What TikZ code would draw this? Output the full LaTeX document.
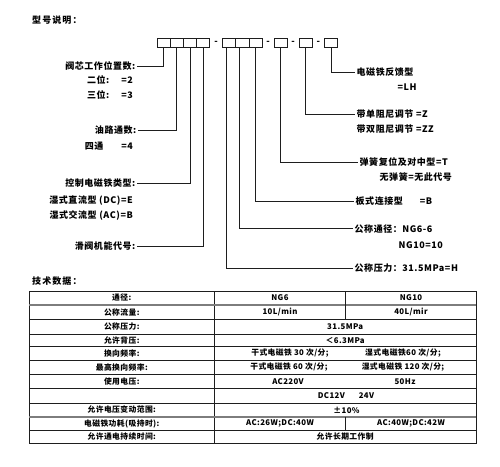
\documentclass[tikz,border=0pt]{standalone}
\usepackage{fontspec}
\setmainfont{Noto Sans CJK SC}
\usetikzlibrary{positioning}
\definecolor{ink}{RGB}{30,30,30}
\definecolor{rulegray}{RGB}{125,125,125}
\tikzset{
  cell/.style={draw=ink,line width=0.9pt,minimum width=13.2pt,minimum height=9.4pt,
               inner sep=0pt,outer sep=0pt},
  lead/.style={draw=ink,line width=0.9pt},
  lab/.style={font=\fontsize{9}{10}\selectfont\bfseries\addfontfeature{LetterSpace=6},inner sep=1.5pt},
  ltxt/.style={lab,anchor=east},
  rtxt/.style={lab,anchor=west},
  ttl/.style={font=\fontsize{9}{10}\selectfont\bfseries\addfontfeature{LetterSpace=12},
              inner sep=0pt,anchor=west},
  tab/.style={font=\fontsize{7.8}{9}\selectfont\bfseries\addfontfeature{LetterSpace=5},inner sep=0pt},
  grid/.style={draw=ink,line width=0.8pt},
  heavy/.style={draw=rulegray,line width=1.6pt},
}

\begin{document}
\begin{tikzpicture}[x=1pt,y=-1pt]
  \useasboundingbox (0,0) rectangle (500,466);

  % model code boxes
  \node[ttl] (title1) at (32,20) {型号说明：};
  \node[cell] (g1a) at (163.6,43) {};
  \node[cell,right=0pt of g1a] (g1b) {};
  \node[cell,right=0pt of g1b] (g1c) {};
  \node[cell,right=0pt of g1c] (g1d) {};
  \node[lab] (d1) at (216,42.5) {-};
  \node[cell] (g2a) at (229.3,43) {};
  \node[cell,right=0pt of g2a] (g2b) {};
  \node[cell,right=0pt of g2b] (g2c) {};
  \node[lab] (d2) at (268,42.5) {-};
  \node[cell] (c3) at (280.7,43) {};
  \node[lab] (d3) at (293.2,42.5) {-};
  \node[cell] (c4) at (305.7,43) {};
  \node[lab] (d4) at (318.3,42.5) {-};
  \node[cell] (c5) at (331,43) {};

  % left side
  \node[ltxt] (l1) at (137,66) {阀芯工作位置数:};
  \node[ltxt] (l1a) at (134.5,80) {二位:\hspace{12pt}=2};
  \node[ltxt] (l1b) at (134.5,95) {三位:\hspace{12pt}=3};
  \node[ltxt] (l2) at (138,130) {油路通数:};
  \node[ltxt] (l2a) at (134.5,146) {四通\hspace{18pt}=4};
  \node[ltxt] (l3) at (137,183.3) {控制电磁铁类型:};
  \node[ltxt] (l3a) at (134.5,200.7) {湿式直流型 (DC)=E};
  \node[ltxt] (l3b) at (134.5,216) {湿式交流型 (AC)=B};
  \node[ltxt] (l4) at (137,246) {滑阀机能代号:};
  \draw[lead] (g1a.south) |- (l1.east);
  \draw[lead] (g1b.south) |- (l2.east);
  \draw[lead] (g1c.south) |- (l3.east);
  \draw[lead] (g1d.south) |- (l4.east);

  % right side
  \node[rtxt] (r1) at (355,72) {电磁铁反馈型};
  \node[rtxt] (r1a) at (396,87) {=LH};
  \node[rtxt] (r2) at (355,114) {带单阻尼调节 =Z};
  \node[rtxt] (r2a) at (355,128.7) {带双阻尼调节 =ZZ};
  \node[rtxt] (r3) at (358,162) {弹簧复位及对中型=T};
  \node[rtxt] (r3a) at (378,176.7) {无弹簧=无此代号};
  \node[rtxt] (r4) at (354,201) {板式连接型\hspace{17pt}=B};
  \node[rtxt] (r5) at (353,228.7) {公称通径：NG6-6};
  \node[rtxt] (r5a) at (397,245) {NG10=10};
  \node[rtxt] (r6) at (353,268.3) {公称压力：31.5MPa=H};
  \draw[lead] (c5.south) |- (r1.west);
  \draw[lead] (c4.south) |- (r2.west);
  \draw[lead] (c3.south) |- (r3.west);
  \draw[lead] (g2c.south) |- (r4.west);
  \draw[lead] ([xshift=-3.3pt]g2b.south) |- (r5.west);
  \draw[lead] ([xshift=-3.3pt]g2a.south) |- (r6.west);

  % technical data table
  \node[ttl] (title2) at (32,281.5) {技术数据：};
  \draw[grid] (29.3,291) rectangle (476,443.3);
  \draw[grid] (214.3,291) -- (214.3,443.3);
  \draw[grid] (29.3,319.3) -- (476,319.3) (29.3,334.3) -- (476,334.3)
    (29.3,346.5) -- (476,346.5) (29.3,360.5) -- (476,360.5)
    (29.3,374.5) -- (476,374.5) (29.3,388.5) -- (476,388.5)
    (29.3,403) -- (476,403) (29.3,430.5) -- (476,430.5);
  \draw[heavy] (29.3,305) -- (476,305) (29.3,416.7) -- (476,416.7);
  \draw[grid] (345.8,291) -- (345.8,319.3) (345.8,416.7) -- (345.8,430.5);

  \node[tab] (k1) at (121.8,298) {通径:};
  \node[tab] (k2) at (121.8,312.2) {公称流量:};
  \node[tab] (k3) at (121.8,326.8) {公称压力:};
  \node[tab] (k4) at (121.8,340.4) {允许背压:};
  \node[tab] (k5) at (121.8,353.5) {换向频率:};
  \node[tab] (k6) at (121.8,367.5) {最高换向频率:};
  \node[tab] (k7) at (121.8,381.5) {使用电压:};
  \node[tab] (k9) at (121.8,409.9) {允许电压变动范围:};
  \node[tab] (k10) at (121.8,423.6) {电磁铁功耗(吸持时):};
  \node[tab] (k11) at (121.8,437) {允许通电持续时间:};

  \node[tab] (v1a) at (280,298) {NG6};
  \node[tab] (v1b) at (411,298) {NG10};
  \node[tab] (v2a) at (280,312.2) {10L/min};
  \node[tab] (v2b) at (411,312.2) {40L/mir};
  \node[tab] (v3) at (345.2,326.8) {31.5MPa};
  \node[tab] (v4) at (345.2,340.4) {＜6.3MPa};
  \node[tab] (v5a) at (290,353.5) {干式电磁铁 30 次/分;};
  \node[tab] (v5b) at (403,353.5) {湿式电磁铁60 次/分;};
  \node[tab] (v6a) at (289,367.5) {干式电磁铁 60 次/分;};
  \node[tab] (v6b) at (403,367.5) {湿式电磁铁 120 次/分;};
  \node[tab] (v7a) at (288,381.5) {AC220V};
  \node[tab] (v7b) at (405,381.5) {50Hz};
  \node[tab] (v8) at (346,395.7) {DC12V\hspace{14pt}24V};
  \node[tab] (v9) at (346.5,409.9) {±10\%};
  \node[tab] (v10a) at (280,423.6) {AC:26W;DC:40W};
  \node[tab] (v10b) at (411,423.6) {AC:40W;DC:42W};
  \node[tab] (v11) at (345.2,437) {允许长期工作制};
\end{tikzpicture}
\end{document}
